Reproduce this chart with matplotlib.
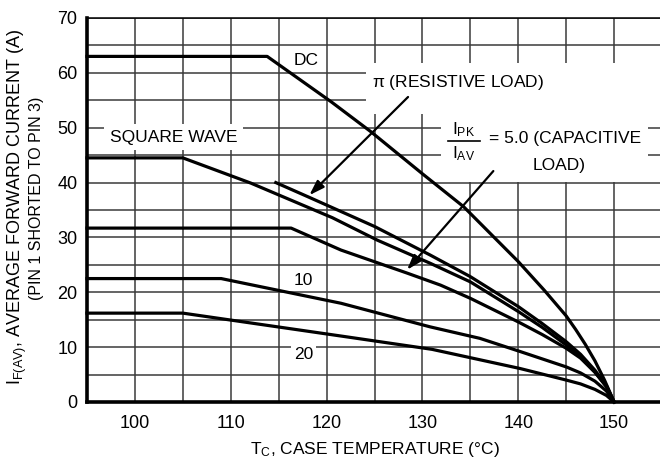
import matplotlib
matplotlib.use("Agg")
import matplotlib.pyplot as plt
from matplotlib.patches import Rectangle

plt.rcParams['font.family'] = ['Liberation Sans', 'DejaVu Sans']
plt.rcParams['mathtext.fontset'] = 'custom'
plt.rcParams['mathtext.rm'] = 'Liberation Sans'

# curves: case temperature (C) vs average forward current (A)
dc_t = [95, 113.8, 120.5, 124.6, 130, 134.3, 140, 142.7, 145, 146, 147, 148, 149, 150]
dc_i = [63, 63, 54.7, 49.3, 41.6, 35.6, 25.6, 20.4, 15.7, 13.2, 10.5, 7.5, 4.0, 0]

sq_t = [95, 105, 112.1, 120.6, 125.3, 130.8, 135, 140, 142.5, 145, 146.5, 148, 149.2, 150]
sq_i = [44.5, 44.5, 39.9, 33.6, 29.5, 25.3, 21.9, 16.5, 13.6, 10.4, 8.2, 5.5, 2.8, 0]

pi_t = [114.7, 118.2, 125, 130.8, 135, 140, 142.5, 145, 146.5, 148, 149.2, 150]
pi_i = [40.0, 37.3, 32.0, 26.8, 22.85, 17.4, 14.3, 11.0, 8.7, 5.8, 3.0, 0]

c5_t = [95, 116.3, 121.5, 128.4, 131.9, 135, 140, 142.5, 145, 146.5, 148, 149.2, 150]
c5_i = [31.7, 31.7, 27.7, 23.5, 21.3, 18.9, 14.6, 12.3, 9.8, 8.0, 5.4, 2.8, 0]

c10_t = [95, 109, 121.5, 130.8, 136, 140.2, 145, 146.5, 148, 149.2, 150]
c10_i = [22.5, 22.5, 18.0, 13.7, 11.6, 9.2, 6.4, 5.3, 3.8, 2.0, 0]

c20_t = [95, 105, 122, 131, 140.2, 145, 146.5, 148, 149.2, 150]
c20_i = [16.2, 16.2, 11.9, 9.6, 6.1, 4.0, 3.3, 2.3, 1.2, 0]

x_ticks = [100, 110, 120, 130, 140, 150]
y_ticks = [0, 10, 20, 30, 40, 50, 60, 70]

fig = plt.figure(figsize=(6.6, 4.59), dpi=100)
ax = fig.add_axes([87/660, 1 - 402/459, 575/660, 384/459])

for t, i in [(dc_t, dc_i), (sq_t, sq_i), (pi_t, pi_i), (c5_t, c5_i), (c10_t, c10_i), (c20_t, c20_i)]:
    ax.plot(t, i, color='black', lw=2.3, solid_joinstyle='round', zorder=4, clip_on=False)

ax.set_xlim(95, 155)
ax.set_ylim(0, 70)
ax.set_xticks(x_ticks)
ax.set_yticks(y_ticks)
ax.set_xticks(range(95, 156, 5), minor=True)
ax.set_yticks(range(0, 71, 5), minor=True)
ax.grid(True, which='both', color='#3a3a3a', lw=1.1)
ax.set_axisbelow(True)
ax.tick_params(which='both', length=0)
ax.tick_params(axis='x', pad=9, labelsize=13)
ax.tick_params(axis='y', pad=7, labelsize=13)

ax.spines['right'].set_visible(False)
ax.spines['top'].set_linewidth(1.1)
ax.spines['left'].set_linewidth(2.6)
ax.spines['bottom'].set_linewidth(2.6)

# white areas behind the labels
ax.add_patch(Rectangle((124.1, 52.5), 31, 9.3, fc='white', ec='none', zorder=2))
ax.add_patch(Rectangle((131.9, 40.1), 21.6, 12.6, fc='white', ec='none', zorder=2))

fs = 12.5
box = dict(fc='white', ec='none', pad=2)
ax.text(117.9, 62.3, 'DC', fontsize=fs, ha='center', va='center', bbox=box, zorder=3)
ax.text(104.0, 48.3, 'SQUARE WAVE', fontsize=fs, ha='center', va='center',
        bbox=dict(fc='white', ec='none', pad=4), zorder=3)
ax.text(133.7, 58.2, r'$\mathregular{\pi}$ (RESISTIVE LOAD)', fontsize=fs, ha='center', va='center', zorder=5)
ax.text(134.3, 49.7, r'$\mathregular{I_{PK}}$', fontsize=fs, ha='center', va='center', zorder=5)
ax.plot([132.7, 136.0], [47.6, 47.6], color='black', lw=1.2, zorder=5)
ax.text(134.3, 45.3, r'$\mathregular{I_{AV}}$', fontsize=fs, ha='center', va='center', zorder=5)
ax.text(136.9, 48.1, '= 5.0 (CAPACITIVE', fontsize=fs, ha='left', va='center', zorder=5)
ax.text(144.3, 43.2, 'LOAD)', fontsize=fs, ha='center', va='center', zorder=5)
ax.text(117.6, 22.2, '10', fontsize=fs, ha='center', va='center', bbox=box, zorder=3)
ax.text(117.6, 8.6, '20', fontsize=fs, ha='center', va='center', bbox=box, zorder=3)

arrow = dict(arrowstyle='-|>,head_length=0.9,head_width=0.3', color='black', lw=1.6, shrinkA=0, shrinkB=0)
ax.annotate('', xy=(118.2, 37.7), xytext=(128.5, 55.6), arrowprops=arrow, zorder=5)
ax.annotate('', xy=(128.4, 24.1), xytext=(137.4, 42.1), arrowprops=arrow, zorder=5)

ax.set_xlabel(r'$\mathregular{T_C}$, CASE TEMPERATURE (°C)', fontsize=12.5, labelpad=6)
fig.text(17/660, 1 - 207/459, r'$\mathregular{I_{F(AV)}}$, AVERAGE FORWARD CURRENT (A)',
         rotation=90, fontsize=13, ha='center', va='center')
fig.text(37/660, 1 - 198/459, '(PIN 1 SHORTED TO PIN 3)',
         rotation=90, fontsize=11.5, ha='center', va='center')

fig.savefig('out.png', dpi=100)
